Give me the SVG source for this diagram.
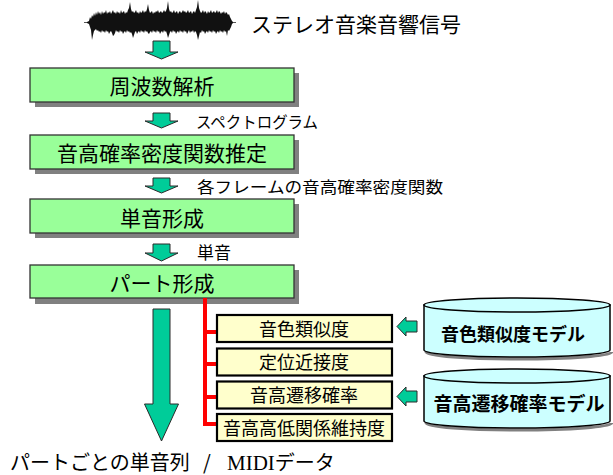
<svg xmlns="http://www.w3.org/2000/svg" width="613" height="475" viewBox="0 0 613 475">
<style>
text{font-family:"Noto Sans CJK JP","Noto Sans",sans-serif;fill:#000}
.gbox{fill:#99FF99;stroke:#333;stroke-width:1.3}
.shadow{fill:#808080}
.gt{font-size:21px;text-anchor:middle}
.lbl{font-size:16px}
.ybox{fill:#FFFFCC;stroke:#000;stroke-width:2.2}
.yt{font-size:18px;text-anchor:middle}
.arr{fill:#00CC99;stroke:#2a2a2a;stroke-width:1}
.cyl{fill:#CCFFFF;stroke:#000;stroke-width:1.5}
.cs{fill:none;stroke:#808080;stroke-width:3}
.ct{font-weight:bold;text-anchor:middle}
.red{fill:none;stroke:#FF0000;stroke-width:4}
</style>
<g id="signal">
<line x1="84" y1="22.5" x2="236" y2="22.5" stroke="#555" stroke-width="1"/>
<polygon fill="#111" points="87,22 89,21 90,17 91,19 92,15 93,17 94,13 95,16 96,12 97,15 98,11 99,14 100,12 101,15 102,11 103,14 104,12 105,13 106,10 107,14 108,12 109,13 110,11 111,14 112,12 113,10 114,13 115,12 116,14 117,11 118,13 119,12 120,14 121,10 122,13 123,12 124,11 125,14 126,12 127,13 128,10 129,8 130,2 131,9 132,12 133,11 134,13 135,12 136,10 137,13 138,12 139,14 140,11 141,13 142,12 143,10 144,13 145,11 146,12 147,9 148,4 149,10 150,13 151,12 152,11 153,14 154,12 155,13 156,11 157,12 158,10 159,13 160,12 161,11 162,13 163,12 164,10 165,12 166,11 167,8 168,1 169,9 170,12 171,11 172,13 173,12 174,10 175,13 176,12 177,11 178,14 179,12 180,11 181,13 182,12 183,10 184,12 185,11 186,13 187,12 188,10 189,13 190,12 191,11 192,14 193,12 194,11 195,13 196,10 197,7 198,0 199,8 200,11 201,13 202,12 203,10 204,13 205,11 206,12 207,14 208,11 209,13 210,12 211,10 212,13 213,12 214,11 215,13 216,12 217,10 218,13 219,11 220,12 221,14 222,12 223,13 224,11 225,14 226,12 227,13 228,15 229,14 230,17 231,19 232,21 233,22 233,23 232,24 231,27 230,29 229,31 228,30 227,36 226,31 225,32 224,30 223,33 222,31 221,32 220,30 219,33 218,31 217,32 216,34 215,31 214,32 213,30 212,33 211,31 210,32 209,30 208,33 207,31 206,32 205,34 204,31 203,32 202,30 201,33 200,32 199,36 198,40 197,35 196,32 195,31 194,33 193,30 192,32 191,31 190,33 189,30 188,32 187,34 186,31 185,32 184,30 183,33 182,31 181,32 180,30 179,33 178,31 177,32 176,34 175,31 174,32 173,30 172,33 171,31 170,32 169,35 168,38 167,34 166,31 165,32 164,30 163,33 162,31 161,32 160,34 159,31 158,32 157,30 156,33 155,31 154,32 153,30 152,33 151,31 150,32 149,34 148,33 147,31 146,32 145,30 144,33 143,31 142,32 141,30 140,33 139,31 138,32 137,34 136,31 135,32 134,35 133,38 132,34 131,32 130,33 129,31 128,32 127,30 126,33 125,31 124,32 123,34 122,31 121,32 120,30 119,33 118,31 117,32 116,30 115,33 114,35 113,36 112,33 111,31 110,32 109,34 108,31 107,32 106,30 105,33 104,31 103,32 102,30 101,33 100,31 99,32 98,30 97,31 96,29 95,30 94,31 93,35 92,40 91,30 90,27 89,24 87,23"/>
<text x="251" y="32" style="font-size:21px">ステレオ音楽音響信号</text>
</g>
<g id="flow-arrows">
<polygon class="arr" points="153,41 170,41 170,52 178,52 161.5,59 145,52 153,52"/>
<polygon class="arr" points="153,113 170,113 170,121 178,121 161.5,128 145,121 153,121"/>
<polygon class="arr" points="153,178 170,178 170,186 178,186 161.5,193 145,186 153,186"/>
<polygon class="arr" points="153,244 170,244 170,253 178,253 161.5,261 145,253 153,253"/>
<polygon class="arr" points="153,309 170,309 170,404 178.5,404 161.5,441 144.5,404 153,404"/>
<polygon class="arr" points="397,326.5 406,317 406,321 417,321 417,332 406,332 406,336"/>
<polygon class="arr" points="397,396.5 406,387 406,391 417,391 417,402 406,402 406,406"/>
</g>
<g id="labels">
<text class="lbl" x="196" y="128" textLength="122" lengthAdjust="spacingAndGlyphs">スペクトログラム</text>
<text class="lbl" x="197" y="193" textLength="246" lengthAdjust="spacingAndGlyphs">各フレームの音高確率密度関数</text>
<text class="lbl" x="197" y="259" style="font-size:17px">単音</text>
</g>
<g id="n1"><rect class="shadow" x="35" y="73" width="264" height="34"/><rect class="gbox" x="30" y="68" width="264" height="34"/><text class="gt" x="162" y="94">周波数解析</text></g>
<g id="n2"><rect class="shadow" x="35" y="140" width="264" height="34"/><rect class="gbox" x="30" y="135" width="264" height="34"/><text class="gt" x="162" y="161">音高確率密度関数推定</text></g>
<g id="n3"><rect class="shadow" x="35" y="204" width="264" height="34"/><rect class="gbox" x="30" y="199" width="264" height="34"/><text class="gt" x="162" y="226">単音形成</text></g>
<g id="n4"><rect class="shadow" x="35" y="270" width="264" height="34"/><rect class="gbox" x="30" y="265" width="264" height="33"/><text class="gt" x="162" y="291">パート形成</text></g>
<g id="connectors">
<path class="red" d="M205 298 V424 H217 M205 332 H217 M205 364 H217 M205 397 H217"/>
</g>
<g id="y1"><rect class="ybox" x="217" y="315" width="175" height="27"/><text class="yt" x="304" y="336">音色類似度</text></g>
<g id="y2"><rect class="ybox" x="217" y="348.5" width="175" height="27"/><text class="yt" x="304" y="369">定位近接度</text></g>
<g id="y3"><rect class="ybox" x="217" y="381.5" width="175" height="27"/><text class="yt" x="304" y="402">音高遷移確率</text></g>
<g id="y4"><rect class="ybox" x="217" y="414" width="175" height="27"/><text class="yt" x="304" y="435">音高高低関係維持度</text></g>
<g id="m1">
<path class="cs" d="M426 352 A92 7 0 0 0 612 352"/>
<path class="cyl" d="M424 305 V350 A93 7 0 0 0 610 350 V305 Z"/>
<ellipse class="cyl" cx="517" cy="305" rx="93" ry="7"/>
<text class="ct" x="513" y="341" style="font-size:18px">音色類似度モデル</text>
</g>
<g id="m2">
<path class="cs" d="M426 423 A92 7 0 0 0 612 423"/>
<path class="cyl" d="M424 376 V421 A93 7 0 0 0 610 421 V376 Z"/>
<ellipse class="cyl" cx="517" cy="376" rx="93" ry="7"/>
<text class="ct" x="519" y="411" style="font-size:19px">音高遷移確率モデル</text>
</g>
<g id="output">
<text x="10" y="470" style="font-size:20px">パートごとの単音列<tspan x="203">/</tspan><tspan x="227" style="font-family:'Liberation Serif',serif;font-size:21px">MIDI</tspan><tspan>データ</tspan></text>
</g>
</svg>
